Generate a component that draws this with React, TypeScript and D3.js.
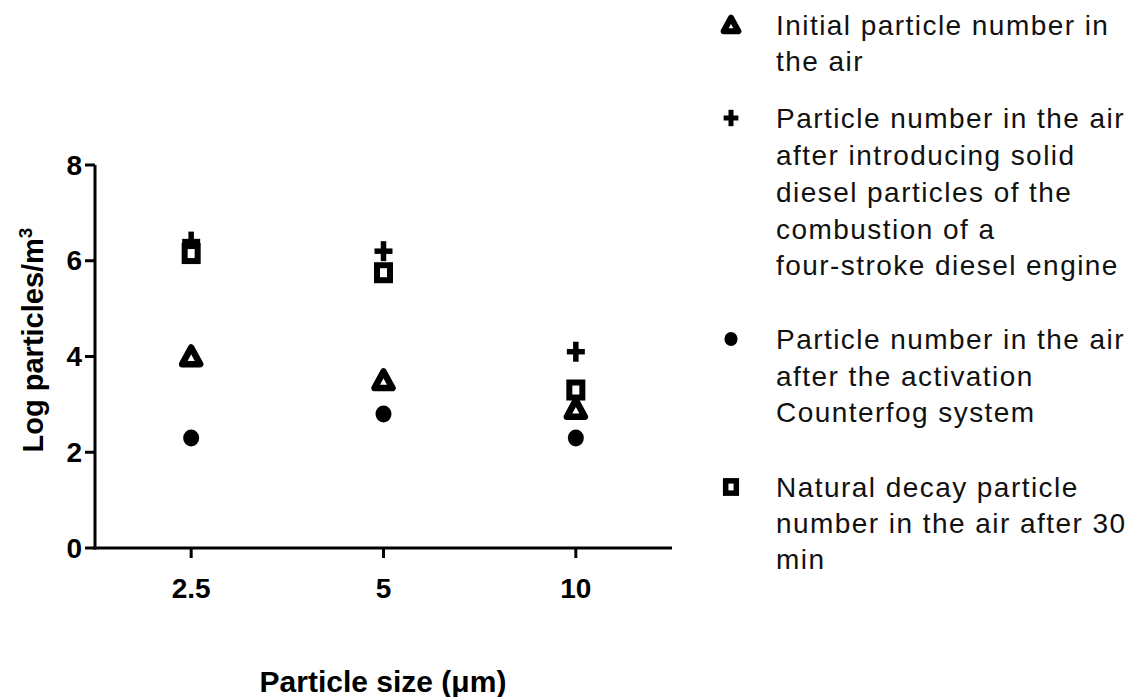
import React from "react";
import * as d3 from "d3";

const categories = ["2.5", "5", "10"];
const initialParticles = [4.0, 3.5, 2.9];
const dieselParticles = [6.4, 6.2, 4.1];
const counterfogParticles = [2.3, 2.8, 2.3];
const naturalDecay = [6.15, 5.75, 3.3];
const yTicks = [0, 2, 4, 6, 8];

const legendItems = [
  { key: "triangle", lines: ["Initial particle number in", "the air"], ys: [25, 61] },
  {
    key: "plus",
    lines: [
      "Particle number in the air",
      "after introducing solid",
      "diesel particles of the",
      "combustion of a",
      "four-stroke diesel engine",
    ],
    ys: [118, 155, 192, 229, 265],
  },
  {
    key: "circle",
    lines: ["Particle number in the air", "after the activation", "Counterfog system"],
    ys: [339, 376, 412],
  },
  {
    key: "square",
    lines: ["Natural decay particle", "number in the air after 30", "min"],
    ys: [487, 523, 559],
  },
];

const W = 1136;
const H = 697;

function Marker({ kind, x, y, s = 1, sw = 6 }: { kind: string; x: number; y: number; s?: number; sw?: number }) {
  if (kind === "triangle") {
    const w = 9 * s;
    const h = 9 * s;
    return (
      <path
        d={`M${x},${y - h} L${x + w},${y + h * 0.85} L${x - w},${y + h * 0.85} Z`}
        fill="#fff"
        stroke="#000"
        strokeWidth={sw + 0.5}
        strokeLinejoin="round"
      />
    );
  }
  if (kind === "plus") {
    const a = 9 * s;
    const b = 10 * s;
    return (
      <g stroke="#000" strokeWidth={sw - 0.5}>
        <line x1={x - a} x2={x + a} y1={y} y2={y} />
        <line x1={x} x2={x} y1={y - b} y2={y + b} />
      </g>
    );
  }
  if (kind === "circle") {
    return <ellipse cx={x} cy={y} rx={8 * s} ry={8.5 * s} fill="#000" />;
  }
  const hw = 6.5 * s;
  const hh = 7.5 * s;
  return (
    <rect
      x={x - hw}
      y={y - hh}
      width={hw * 2}
      height={hh * 2}
      fill="#fff"
      stroke="#000"
      strokeWidth={sw}
    />
  );
}

export default function App() {
  const x = d3.scalePoint<string>().domain(categories).range([95, 672]).padding(0.5);
  const y = d3.scaleLinear().domain([0, 8]).range([548, 165]);

  const series = [
    { kind: "triangle", values: initialParticles },
    { kind: "plus", values: dieselParticles },
    { kind: "circle", values: counterfogParticles },
    { kind: "square", values: naturalDecay },
  ];

  const font = "'Liberation Sans', Arial, sans-serif";

  return (
    <svg
      width={W}
      height={H}
      style={{ position: "absolute", left: 0, top: 0, background: "#fff" }}
      fontFamily={font}
    >
      <line x1={95} x2={95} y1={y(8)} y2={y(0) + 1.5} stroke="#000" strokeWidth={3} />
      {yTicks.map((t) => (
        <g key={t}>
          <line x1={85} x2={95} y1={y(t)} y2={y(t)} stroke="#000" strokeWidth={3} />
          <text
            x={82}
            y={y(t)}
            textAnchor="end"
            dominantBaseline="central"
            fontSize={28}
            fontWeight="bold"
          >
            {t}
          </text>
        </g>
      ))}
      <line x1={93.5} x2={672} y1={y(0)} y2={y(0)} stroke="#000" strokeWidth={3} />
      {categories.map((c) => (
        <g key={c}>
          <line x1={x(c)!} x2={x(c)!} y1={y(0)} y2={y(0) + 10} stroke="#000" strokeWidth={3} />
          <text
            x={x(c)!}
            y={588}
            textAnchor="middle"
            dominantBaseline="central"
            fontSize={28}
            fontWeight="bold"
          >
            {c}
          </text>
        </g>
      ))}
      <text x={383} y={692} textAnchor="middle" fontSize={30} fontWeight="bold">
        Particle size (μm)
      </text>
      <text
        transform={`translate(43, 340) rotate(-90)`}
        textAnchor="middle"
        fontSize={29}
        fontWeight="bold"
      >
        Log particles/m<tspan dy={-11} fontSize={19}>3</tspan>
      </text>

      {series.map((s) =>
        s.values.map((v, i) => (
          <Marker key={s.kind + i} kind={s.kind} x={x(categories[i])!} y={y(v)} />
        ))
      )}

      {legendItems.map((item) => (
        <g key={item.key}>
          <Marker kind={item.key} x={731} y={item.ys[0]} s={0.82} sw={5.5} />
          {item.lines.map((ln, j) => (
            <text
              key={j}
              x={776}
              y={item.ys[j]}
              dominantBaseline="central"
              fontSize={28}
              letterSpacing={1.45}
              fill="#111"
            >
              {ln}
            </text>
          ))}
        </g>
      ))}
    </svg>
  );
}
